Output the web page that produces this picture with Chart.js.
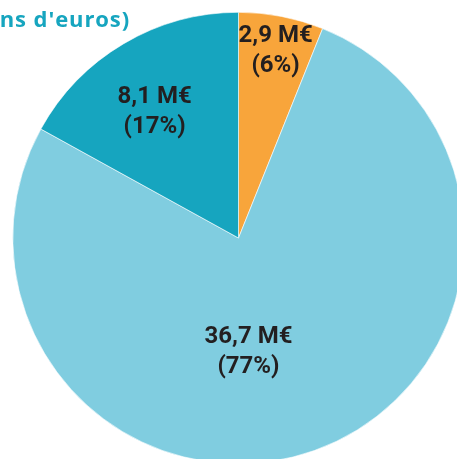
<!DOCTYPE html>
<html>
<head>
<meta charset="utf-8">
<script src="https://cdn.jsdelivr.net/npm/chart.js@4.4.1/dist/chart.umd.min.js"></script>
<style>
  html, body { margin: 0; padding: 0; overflow: hidden; background: #fff; width: 457px; height: 459px; }
  #wrap { position: relative; width: 457px; height: 459px; overflow: hidden; }
  #c { position: absolute; left: 0; top: 0; }
  #title { position: absolute; right: 327px; top: 3px; white-space: nowrap; font-family: "Open Sans", sans-serif; font-weight: 700; font-size: 22px; color: #16A5BF; letter-spacing: 0.9px; }
</style>
</head>
<body>
<div id="wrap">
  <canvas id="c" width="477" height="477"></canvas>
  <div id="title">ns d'euros)</div>
</div>
<script>
const categories = ["Part A", "Part B", "Part C"];
const values = [2.9, 36.7, 8.1];
const colors = ["#F8A53B", "#80CDE0", "#16A5BF"];
const unit = " M€";

const total = values.reduce((a, b) => a + b, 0);
const fmt = v => v.toFixed(1).replace(".", ",") + unit;
const pct = v => "(" + Math.round(v / total * 100) + "%)";

// label anchor: fraction of outer radius, angle offset (deg) from the slice mid-angle
const labelPlacement = [
  { r: 0.843, dAng: 0.3 },
  { r: 0.505, dAng: 14.6 },
  { r: 0.672, dAng: -3.0 }
];

const labelPlugin = {
  id: "sliceLabels",
  afterDatasetsDraw(chart) {
    const ctx = chart.ctx;
    const meta = chart.getDatasetMeta(0);
    ctx.save();
    ctx.fillStyle = "#231F20";
    ctx.textAlign = "center";
    ctx.textBaseline = "middle";
    ctx.font = "bold 24px Roboto, sans-serif";
    meta.data.forEach((arc, i) => {
      const p = labelPlacement[i];
      const mid = (arc.startAngle + arc.endAngle) / 2 + p.dAng * Math.PI / 180;
      const rr = arc.outerRadius * p.r;
      const x = arc.x + Math.cos(mid) * rr;
      const y = arc.y + Math.sin(mid) * rr;
      ctx.fillText(fmt(values[i]), x, y - 15);
      ctx.fillText(pct(values[i]), x, y + 15);
    });
    ctx.restore();
  }
};

new Chart(document.getElementById("c"), {
  type: "pie",
  data: {
    labels: categories,
    datasets: [{
      data: values,
      backgroundColor: colors,
      borderColor: "#ffffff",
      borderWidth: 0.6
    }]
  },
  options: {
    responsive: false,
    animation: false,
    layout: { padding: { left: 12.5, right: 12.5, top: 12, bottom: 13 } },
    plugins: {
      legend: { display: false },
      tooltip: { enabled: false },
      title: { display: false }
    }
  },
  plugins: [labelPlugin]
});
</script>
</body>
</html>
